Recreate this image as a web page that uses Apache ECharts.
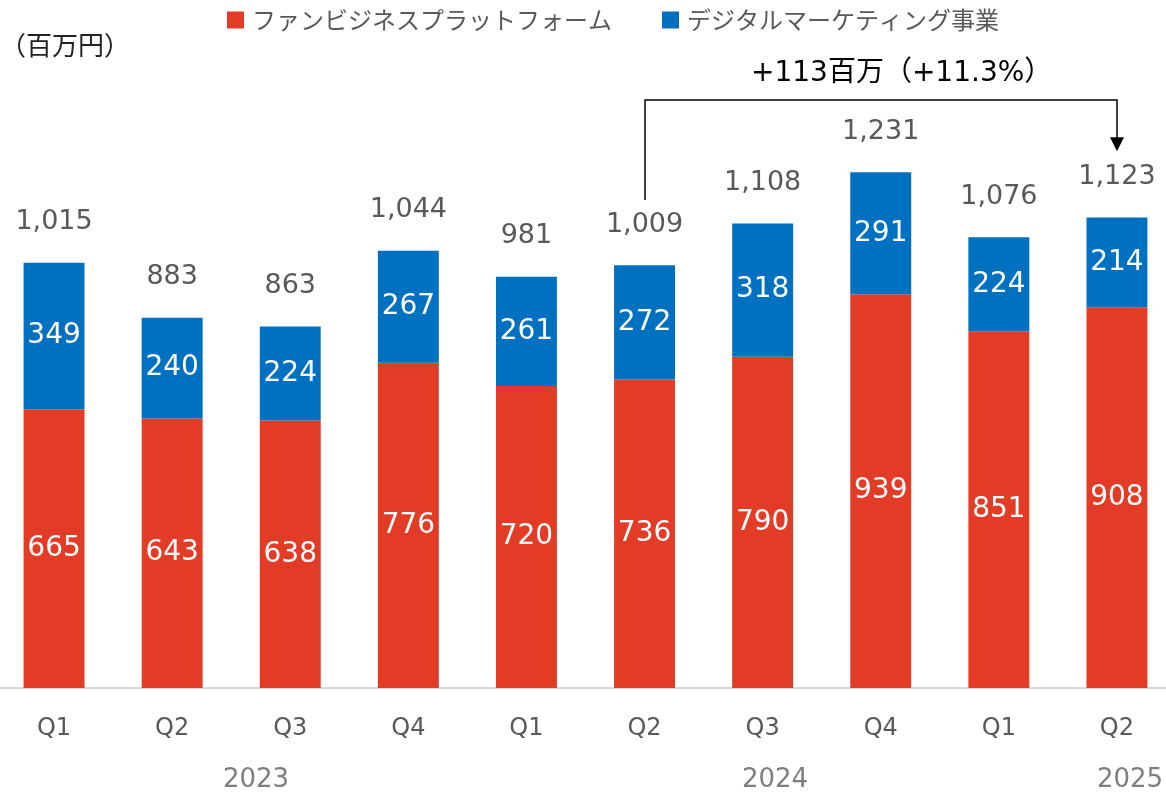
<!DOCTYPE html>
<html>
<head>
<meta charset="utf-8">
<script src="https://cdn.jsdelivr.net/npm/echarts@6/dist/echarts.min.js"></script>
<style>
  html, body { margin: 0; padding: 0; background: #fff; overflow: hidden; }
  /* 左端のバーが枠から少しはみ出すので、描画領域を左右に広げる */
  #main { position: absolute; left: -5px; top: 0; width: 1181px; height: 796px; }
</style>
</head>
<body>
<div id="main"></div>
<script>
// 四半期ラベル
var quarters = ["Q1", "Q2", "Q3", "Q4", "Q1", "Q2", "Q3", "Q4", "Q1", "Q2"];
// ファンビジネスプラットフォーム
var fanBiz = [665, 643, 638, 776, 720, 736, 790, 939, 851, 908];
// デジタルマーケティング事業
var digital = [349, 240, 224, 267, 261, 272, 318, 291, 224, 214];
// 合計（表示値）
var totals = [1015, 883, 863, 1044, 981, 1009, 1108, 1231, 1076, 1123];
var years = ["2023", "2024", "2025"];
var seriesNames = ["ファンビジネスプラットフォーム", "デジタルマーケティング事業"];
var growthText = "+113百万（+11.3%）";

// 数字は DejaVu、かなは CJK フォントにフォールバック
var font = "'DejaVu Sans', 'Noto Sans CJK JP', sans-serif";
var off = 5; // コンテナのずれ
var myChart = echarts.init(document.getElementById("main"));

myChart.setOption({
    animation: false,
    textStyle: { fontFamily: font },
    legend: {
        data: seriesNames,
        left: 222 + off,
        top: 3,
        itemWidth: 17,
        itemHeight: 17,
        itemGap: 50,
        icon: "rect",
        textStyle: { fontSize: 24, color: "#595959", padding: [0, 0, 0, 3], fontFamily: "'Noto Sans CJK JP', sans-serif" }
    },
    grid: { left: 0, right: 0, top: 101, bottom: 108, containLabel: false },
    xAxis: {
        type: "category",
        data: quarters,
        axisTick: { show: false },
        axisLine: { lineStyle: { color: "#d9d9d9", width: 2 } },
        axisLabel: { fontSize: 24, color: "#595959", margin: 29, fontFamily: font }
    },
    yAxis: {
        type: "value",
        min: 0,
        max: 1400,
        show: false,
        splitLine: { show: false }
    },
    series: [
        {
            name: seriesNames[0],
            type: "bar",
            stack: "all",
            barWidth: "51.6%",
            itemStyle: { color: "#E33C26" },
            label: { show: true, color: "#fff", fontSize: 28, fontFamily: font },
            data: fanBiz
        },
        {
            name: seriesNames[1],
            type: "bar",
            stack: "all",
            itemStyle: { color: "#0070C0" },
            label: { show: true, color: "#fff", fontSize: 28, fontFamily: font },
            data: digital
        },
        {
            // 合計ラベル用
            name: "合計",
            type: "bar",
            stack: "all",
            itemStyle: { color: "transparent" },
            label: {
                show: true,
                position: "top",
                distance: 27,
                color: "#595959",
                fontSize: 27,
                fontFamily: font,
                formatter: function (p) {
                    return totals[p.dataIndex].toLocaleString("en-US");
                }
            },
            data: totals.map(function () { return 0; })
        }
    ]
});

// 注釈（単位・年・増減矢印）
var p1 = myChart.convertToPixel({ seriesIndex: 0 }, [5, totals[5]]);
var p2 = myChart.convertToPixel({ seriesIndex: 0 }, [9, totals[9]]);
var topY = 100;
var x1 = Math.round(p1[0]), x2 = Math.round(p2[0]);
var y1 = p1[1] - 65, y2 = p2[1] - 66;

myChart.setOption({
    graphic: [
        { type: "text", x: 0 + off, y: 45, style: { text: "（百万円）", fill: "#222", font: "26px 'Noto Sans CJK JP', sans-serif", verticalAlign: "middle" } },
        { type: "text", x: 256 + off, y: 780, style: { text: years[0], fill: "#7f7f7f", font: "26px " + font, align: "center", verticalAlign: "middle" } },
        { type: "text", x: 775 + off, y: 780, style: { text: years[1], fill: "#7f7f7f", font: "26px " + font, align: "center", verticalAlign: "middle" } },
        { type: "text", x: 1130 + off, y: 780, style: { text: years[2], fill: "#7f7f7f", font: "26px " + font, align: "center", verticalAlign: "middle" } },
        {
            type: "polyline",
            shape: { points: [[x1, y1], [x1, topY], [x2, topY], [x2, y2 - 12]] },
            style: { stroke: "#000", lineWidth: 1.5, fill: null }
        },
        {
            type: "polygon",
            shape: { points: [[x2 - 7, y2 - 14], [x2 + 7, y2 - 14], [x2, y2]] },
            style: { fill: "#000" }
        },
        {
            type: "text",
            x: x1 + 106,
            y: 74,
            style: { text: growthText, fill: "#000", font: "28px " + font, align: "left", verticalAlign: "middle" }
        }
    ]
});

window.onresize = function () {
    myChart.resize();
};
</script>
</body>
</html>
